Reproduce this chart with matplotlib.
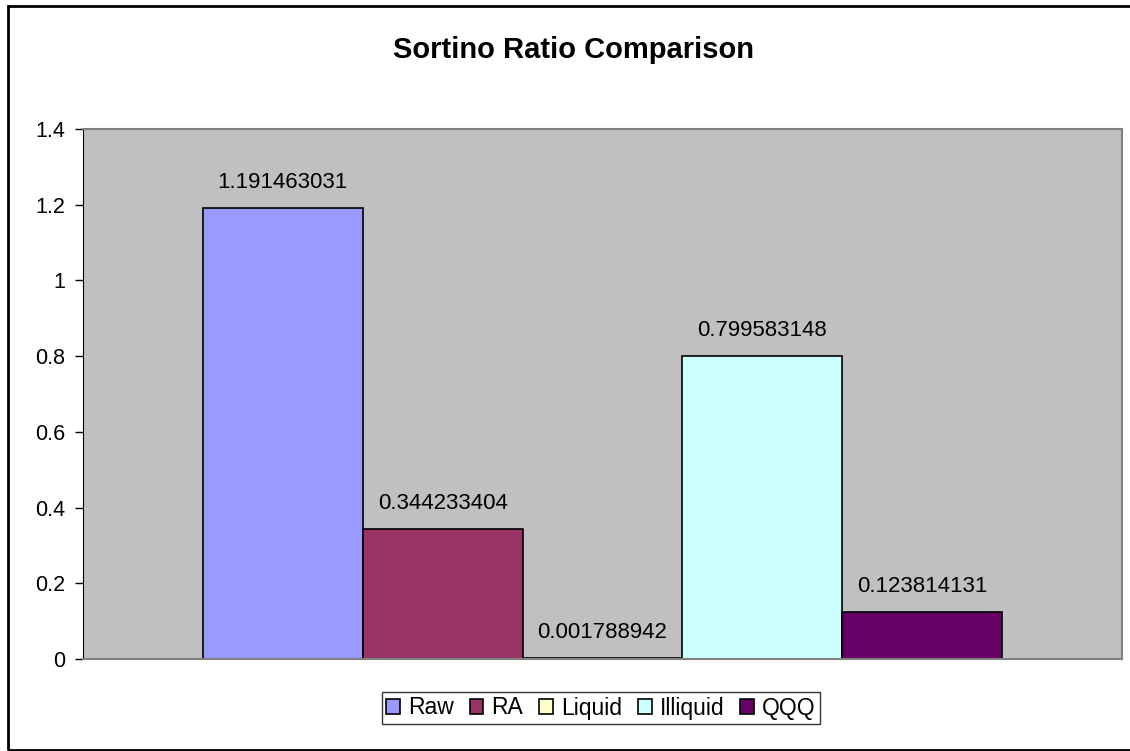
import matplotlib
matplotlib.use("Agg")
import matplotlib.pyplot as plt
from matplotlib.patches import Rectangle

plt.rcParams['font.family'] = ['Liberation Sans', 'DejaVu Sans']

series = ["Raw", "RA", "Liquid", "Illiquid", "QQQ"]
values = [1.191463031, 0.344233404, 0.001788942, 0.799583148, 0.123814131]
colors = ["#9999FF", "#993366", "#FFFFCC", "#CCFFFF", "#660066"]
labels = ["1.191463031", "0.344233404", "0.001788942", "0.799583148", "0.123814131"]
yticks = [0, 0.2, 0.4, 0.6, 0.8, 1, 1.2, 1.4]
ytick_labels = ["0", "0.2", "0.4", "0.6", "0.8", "1", "1.2", "1.4"]

fig = plt.figure(figsize=(11.3, 7.51), dpi=100)
ax = fig.add_axes([83/1130, 1 - 659/751, (1122 - 83)/1130, (659 - 129)/751])
ax.set_facecolor("#C0C0C0")

w = 0.2
n = len(series)
handles = []
for k, (name, v, c, lab) in enumerate(zip(series, values, colors, labels)):
    x = (k - (n - 1) / 2) * w
    b = ax.bar(x, v, width=w, color=c, edgecolor="black", linewidth=1.2, label=name)
    handles.append(b)
    ax.annotate(lab, (x, v), xytext=(0, 14.4), textcoords="offset points",
                ha="center", va="baseline", fontsize=16, color="black")

ax.set_xlim(-3.25 * w, 3.25 * w)
ax.set_ylim(0, 1.4)
ax.set_yticks(yticks)
ax.set_yticklabels(ytick_labels, fontsize=15.5)
ax.set_xticks([])
ax.tick_params(axis="y", direction="out", length=6, width=1, pad=7, colors="black")
for s in ["top", "right"]:
    ax.spines[s].set_color("#808080")
    ax.spines[s].set_linewidth(1.5)
ax.spines["left"].set_color("black")
ax.spines["bottom"].set_color("#808080")
ax.spines["bottom"].set_linewidth(1.5)

fig.text(573 / 1130, 1 - 58 / 751, "Sortino Ratio Comparison", ha="center", va="baseline",
         fontsize=21, fontweight="bold")

leg = fig.legend(handles=handles, loc="center", bbox_to_anchor=(601 / 1130, 1 - 708 / 751),
                 ncol=5, fontsize=16.5, frameon=True, fancybox=False, edgecolor="black",
                 handlelength=0.6, handleheight=0.6, handletextpad=0.35, columnspacing=0.7,
                 borderpad=0.2, borderaxespad=0)
leg.get_frame().set_linewidth(1)

fig.patches.append(Rectangle((8 / 1130, 1 / 751), 1.0, 1 - 7 / 751, transform=fig.transFigure,
                             fill=False, edgecolor="black", linewidth=2))

fig.savefig("out.png", dpi=100)
